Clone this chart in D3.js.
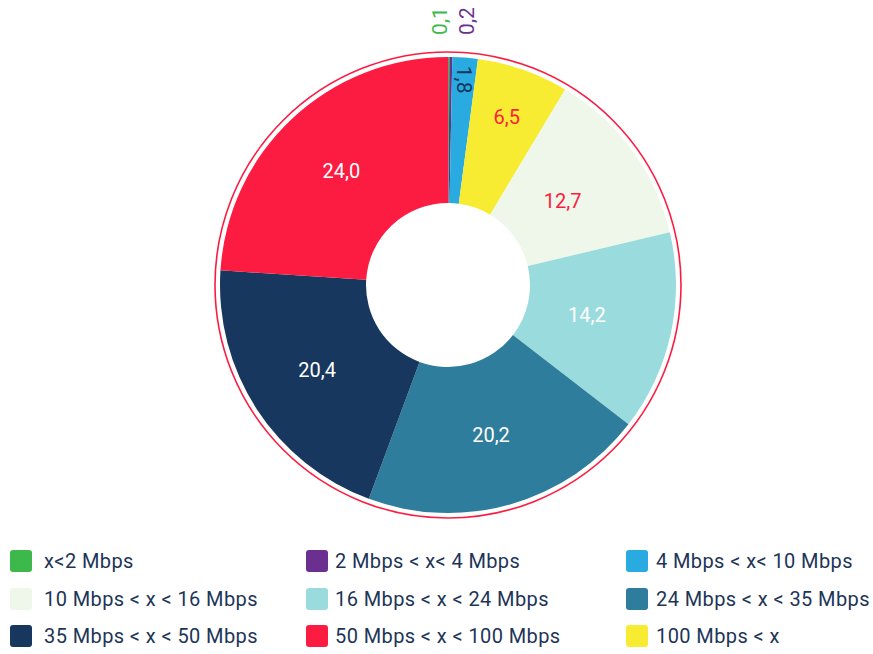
<!DOCTYPE html>
<html>
<head>
<meta charset="utf-8">
<script src="https://cdn.jsdelivr.net/npm/d3@7"></script>
<style>
  body { margin: 0; background: #fff; }
  text { font-family: Roboto, "Noto Sans", sans-serif; }
</style>
</head>
<body>
<div id="chart"></div>
<script>
// Data
var categories = ["x<2 Mbps", "2 Mbps < x< 4 Mbps", "4 Mbps < x< 10 Mbps",
    "10 Mbps < x < 16 Mbps", "16 Mbps < x < 24 Mbps", "24 Mbps < x < 35 Mbps",
    "35 Mbps < x < 50 Mbps", "50 Mbps < x < 100 Mbps", "100 Mbps < x"];
var values = [0.1, 0.2, 1.8, 12.7, 14.2, 20.2, 20.4, 24.0, 6.5];
var colors = ["#3cb94a", "#6a2f8f", "#29abe2", "#eef7e9", "#9adcdd", "#2e7d9c", "#17375e", "#fc1c41", "#f7ec31"];
var labelColors = ["#3cb94a", "#6a2f8f", "#17375e", "#fc1c41", "#fff", "#fff", "#fff", "#fff", "#fc1c41"];
// drawing order of the slices clockwise from the top
var pieOrder = [0, 1, 2, 8, 3, 4, 5, 6, 7];

var width = 873, height = 654;
var cx = 448, cy = 285, outerR = 228, innerR = 82;

var svg = d3.select("#chart").append("svg")
    .attr("width", width)
    .attr("height", height);

var g = svg.append("g").attr("transform", "translate(" + cx + "," + cy + ")");

var slices = pieOrder.map(function(i) { return { i: i, value: values[i] } });

var pie = d3.pie().sort(null).value(function(d) { return d.value });
var arc = d3.arc().innerRadius(innerR).outerRadius(outerR);
var arcs = pie(slices);

// outer ring
g.append("circle")
    .attr("r", outerR + 5)
    .attr("fill", "none")
    .attr("stroke", "#fc1c41")
    .attr("stroke-width", 1.6);

g.selectAll("path.slice").data(arcs).enter().append("path")
    .attr("class", "slice")
    .attr("d", arc)
    .attr("fill", function(d) { return colors[d.data.i] });

function labelRadius(v) {
    if (v < 1) return 264;
    if (v < 5) return 206;
    if (v < 10) return 178;
    if (v < 15) return 142;
    return 156;
}

var fmt = function(v) { return v.toFixed(1).replace(".", ",") };

g.selectAll("text.lab").data(arcs).enter().append("text")
    .attr("class", "lab")
    .attr("transform", function(d) {
        var a = (d.startAngle + d.endAngle) / 2;
        var r = labelRadius(d.data.value);
        var x = Math.sin(a) * r, y = -Math.cos(a) * r;
        if (d.data.value < 1) {
            // tiny slices: spread side by side above the chart
            x += (d.data.i === 0 ? -9 : 16);
            return "translate(" + x + "," + y + ") rotate(-90)";
        }
        if (d.data.value < 5) return "translate(" + x + "," + y + ") rotate(90)";
        return "translate(" + x + "," + y + ")";
    })
    .attr("text-anchor", "middle")
    .attr("dominant-baseline", "central")
    .style("font-size", function(d) { return d.data.value < 5 ? "21px" : "20px" })
    .style("fill", function(d) { return labelColors[d.data.i] })
    .text(function(d) { return fmt(d.data.value) });

// Legend
var colX = [10, 306, 626], textX = [34, 29, 30], rowY = [561, 599, 636], sq = 22;
var legend = svg.selectAll("g.legend").data(categories).enter().append("g")
    .attr("class", "legend")
    .attr("transform", function(d, i) {
        return "translate(" + colX[i % 3] + "," + rowY[Math.floor(i / 3)] + ")";
    });
legend.append("rect")
    .attr("x", 0).attr("y", -sq / 2)
    .attr("width", sq).attr("height", sq)
    .attr("rx", 3)
    .attr("fill", function(d, i) { return colors[i] });
legend.append("text")
    .attr("x", function(d, i) { return textX[i % 3] })
    .attr("dominant-baseline", "central")
    .style("font-size", "20px")
    .style("letter-spacing", "0.4px")
    .style("fill", "#1d3557")
    .text(function(d) { return d });
</script>
</body>
</html>
